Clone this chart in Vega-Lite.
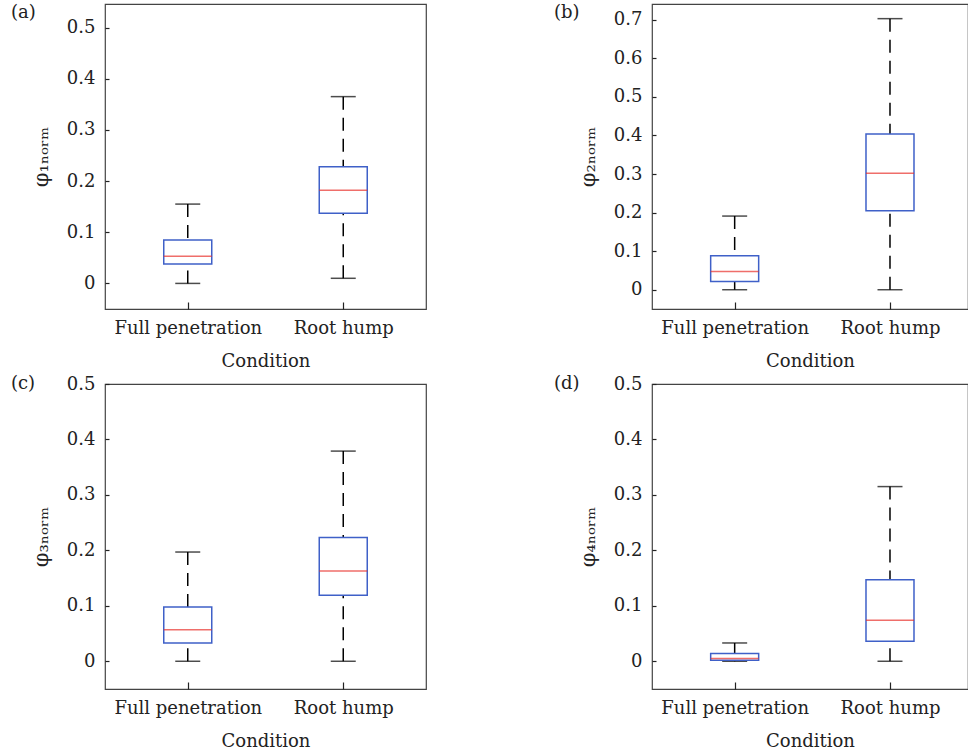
{
  "$schema": "https://vega.github.io/schema/vega-lite/v6.json",
  "background": "white",
  "padding": {"left": 10, "top": 3, "right": 0, "bottom": 0},
  "autosize": {"type": "pad"},
  "datasets": {
    "a": [
      {"cond": "Full penetration", "pos": 1, "min": 0.0, "q1": 0.038, "med": 0.053, "q3": 0.085, "max": 0.155},
      {"cond": "Root hump", "pos": 2, "min": 0.01, "q1": 0.137, "med": 0.182, "q3": 0.228, "max": 0.365}
    ],
    "b": [
      {"cond": "Full penetration", "pos": 1, "min": 0.0, "q1": 0.021, "med": 0.047, "q3": 0.088, "max": 0.191},
      {"cond": "Root hump", "pos": 2, "min": 0.0, "q1": 0.205, "med": 0.302, "q3": 0.404, "max": 0.703}
    ],
    "c": [
      {"cond": "Full penetration", "pos": 1, "min": 0.0, "q1": 0.033, "med": 0.057, "q3": 0.098, "max": 0.197},
      {"cond": "Root hump", "pos": 2, "min": 0.0, "q1": 0.119, "med": 0.163, "q3": 0.223, "max": 0.379}
    ],
    "d": [
      {"cond": "Full penetration", "pos": 1, "min": 0.0, "q1": 0.002, "med": 0.005, "q3": 0.014, "max": 0.033},
      {"cond": "Root hump", "pos": 2, "min": 0.0, "q1": 0.036, "med": 0.074, "q3": 0.147, "max": 0.315}
    ]
  },
  "columns": 2,
  "bounds": "flush",
  "align": "all",
  "spacing": {"row": 75, "column": 226},
  "concat": [
    {
      "width": 321, "height": 305,
      "data": {"name": "a"},
      "title": {"text": "(a)", "anchor": "start", "frame": "group", "dx": -94, "offset": -18, "baseline": "top"},
      "encoding": {
        "x": {"field": "pos", "type": "quantitative", "scale": {"domain": [0.5, 2.5], "nice": false, "zero": false},
              "axis": {"values": [1, 2], "labelExpr": "datum.value == 1 ? 'Full penetration' : 'Root hump'", "title": "Condition", "tickSize": -7, "labelPadding": 17, "titlePadding": 15}},
        "y": {"field": "min", "type": "quantitative", "scale": {"domain": [-0.05, 0.546], "nice": false, "zero": false},
              "axis": {"values": [0, 0.1, 0.2, 0.3, 0.4, 0.5], "format": ".1~f", "title": "φ₁ₙₒᵣₘ", "tickSize": -4, "labelPadding": 14, "titlePadding": 15}}
      },
      "layer": [
        {"mark": {"type": "rule", "color": "black", "strokeWidth": 1.5, "strokeDash": [13, 8]}, "encoding": {"y": {"field": "max", "type": "quantitative"}, "y2": {"field": "q3"}}},
        {"mark": {"type": "rule", "color": "black", "strokeWidth": 1.5, "strokeDash": [13, 8]}, "encoding": {"y": {"field": "min", "type": "quantitative"}, "y2": {"field": "q1"}}},
        {"mark": {"type": "tick", "orient": "horizontal", "color": "black", "size": 25, "thickness": 1.5}, "encoding": {"y": {"field": "min", "type": "quantitative"}}},
        {"mark": {"type": "tick", "orient": "horizontal", "color": "black", "size": 25, "thickness": 1.5}, "encoding": {"y": {"field": "max", "type": "quantitative"}}},
        {"mark": {"type": "bar", "size": 48, "fill": "white", "stroke": "#3f60c8", "strokeWidth": 1.5}, "encoding": {"y": {"field": "q1", "type": "quantitative"}, "y2": {"field": "q3"}}},
        {"mark": {"type": "tick", "orient": "horizontal", "color": "#e8312b", "size": 48, "thickness": 1.5}, "encoding": {"y": {"field": "med", "type": "quantitative"}}}
      ]
    },
    {
      "width": 316, "height": 305,
      "data": {"name": "b"},
      "title": {"text": "(b)", "anchor": "start", "frame": "group", "dx": -98, "offset": -18, "baseline": "top"},
      "encoding": {
        "x": {"field": "pos", "type": "quantitative", "scale": {"domain": [0.5, 2.47], "nice": false, "zero": false},
              "axis": {"values": [1, 2], "labelExpr": "datum.value == 1 ? 'Full penetration' : 'Root hump'", "title": "Condition", "tickSize": -7, "labelPadding": 17, "titlePadding": 15}},
        "y": {"field": "min", "type": "quantitative", "scale": {"domain": [-0.05, 0.741], "nice": false, "zero": false},
              "axis": {"values": [0, 0.1, 0.2, 0.3, 0.4, 0.5, 0.6, 0.7], "format": ".1~f", "title": "φ₂ₙₒᵣₘ", "tickSize": -4, "labelPadding": 14, "titlePadding": 15}}
      },
      "layer": [
        {"mark": {"type": "rule", "color": "black", "strokeWidth": 1.5, "strokeDash": [13, 8]}, "encoding": {"y": {"field": "max", "type": "quantitative"}, "y2": {"field": "q3"}}},
        {"mark": {"type": "rule", "color": "black", "strokeWidth": 1.5, "strokeDash": [13, 8]}, "encoding": {"y": {"field": "min", "type": "quantitative"}, "y2": {"field": "q1"}}},
        {"mark": {"type": "tick", "orient": "horizontal", "color": "black", "size": 25, "thickness": 1.5}, "encoding": {"y": {"field": "min", "type": "quantitative"}}},
        {"mark": {"type": "tick", "orient": "horizontal", "color": "black", "size": 25, "thickness": 1.5}, "encoding": {"y": {"field": "max", "type": "quantitative"}}},
        {"mark": {"type": "bar", "size": 48, "fill": "white", "stroke": "#3f60c8", "strokeWidth": 1.5}, "encoding": {"y": {"field": "q1", "type": "quantitative"}, "y2": {"field": "q3"}}},
        {"mark": {"type": "tick", "orient": "horizontal", "color": "#e8312b", "size": 48, "thickness": 1.5}, "encoding": {"y": {"field": "med", "type": "quantitative"}}}
      ]
    },
    {
      "width": 321, "height": 305,
      "data": {"name": "c"},
      "title": {"text": "(c)", "anchor": "start", "frame": "group", "dx": -94, "offset": -18, "baseline": "top"},
      "encoding": {
        "x": {"field": "pos", "type": "quantitative", "scale": {"domain": [0.5, 2.5], "nice": false, "zero": false},
              "axis": {"values": [1, 2], "labelExpr": "datum.value == 1 ? 'Full penetration' : 'Root hump'", "title": "Condition", "tickSize": -7, "labelPadding": 17, "titlePadding": 15}},
        "y": {"field": "min", "type": "quantitative", "scale": {"domain": [-0.05, 0.5], "nice": false, "zero": false},
              "axis": {"values": [0, 0.1, 0.2, 0.3, 0.4, 0.5], "format": ".1~f", "title": "φ₃ₙₒᵣₘ", "tickSize": -4, "labelPadding": 14, "titlePadding": 15}}
      },
      "layer": [
        {"mark": {"type": "rule", "color": "black", "strokeWidth": 1.5, "strokeDash": [13, 8]}, "encoding": {"y": {"field": "max", "type": "quantitative"}, "y2": {"field": "q3"}}},
        {"mark": {"type": "rule", "color": "black", "strokeWidth": 1.5, "strokeDash": [13, 8]}, "encoding": {"y": {"field": "min", "type": "quantitative"}, "y2": {"field": "q1"}}},
        {"mark": {"type": "tick", "orient": "horizontal", "color": "black", "size": 25, "thickness": 1.5}, "encoding": {"y": {"field": "min", "type": "quantitative"}}},
        {"mark": {"type": "tick", "orient": "horizontal", "color": "black", "size": 25, "thickness": 1.5}, "encoding": {"y": {"field": "max", "type": "quantitative"}}},
        {"mark": {"type": "bar", "size": 48, "fill": "white", "stroke": "#3f60c8", "strokeWidth": 1.5}, "encoding": {"y": {"field": "q1", "type": "quantitative"}, "y2": {"field": "q3"}}},
        {"mark": {"type": "tick", "orient": "horizontal", "color": "#e8312b", "size": 48, "thickness": 1.5}, "encoding": {"y": {"field": "med", "type": "quantitative"}}}
      ]
    },
    {
      "width": 316, "height": 305,
      "data": {"name": "d"},
      "title": {"text": "(d)", "anchor": "start", "frame": "group", "dx": -98, "offset": -18, "baseline": "top"},
      "encoding": {
        "x": {"field": "pos", "type": "quantitative", "scale": {"domain": [0.5, 2.47], "nice": false, "zero": false},
              "axis": {"values": [1, 2], "labelExpr": "datum.value == 1 ? 'Full penetration' : 'Root hump'", "title": "Condition", "tickSize": -7, "labelPadding": 17, "titlePadding": 15}},
        "y": {"field": "min", "type": "quantitative", "scale": {"domain": [-0.05, 0.5], "nice": false, "zero": false},
              "axis": {"values": [0, 0.1, 0.2, 0.3, 0.4, 0.5], "format": ".1~f", "title": "φ₄ₙₒᵣₘ", "tickSize": -4, "labelPadding": 14, "titlePadding": 15}}
      },
      "layer": [
        {"mark": {"type": "rule", "color": "black", "strokeWidth": 1.5, "strokeDash": [13, 8]}, "encoding": {"y": {"field": "max", "type": "quantitative"}, "y2": {"field": "q3"}}},
        {"mark": {"type": "rule", "color": "black", "strokeWidth": 1.5, "strokeDash": [13, 8]}, "encoding": {"y": {"field": "min", "type": "quantitative"}, "y2": {"field": "q1"}}},
        {"mark": {"type": "tick", "orient": "horizontal", "color": "black", "size": 25, "thickness": 1.5}, "encoding": {"y": {"field": "min", "type": "quantitative"}}},
        {"mark": {"type": "tick", "orient": "horizontal", "color": "black", "size": 25, "thickness": 1.5}, "encoding": {"y": {"field": "max", "type": "quantitative"}}},
        {"mark": {"type": "bar", "size": 48, "fill": "white", "stroke": "#3f60c8", "strokeWidth": 1.5}, "encoding": {"y": {"field": "q1", "type": "quantitative"}, "y2": {"field": "q3"}}},
        {"mark": {"type": "tick", "orient": "horizontal", "color": "#e8312b", "size": 48, "thickness": 1.5}, "encoding": {"y": {"field": "med", "type": "quantitative"}}}
      ]
    }
  ],
  "config": {
    "font": "DejaVu Serif",
    "view": {"stroke": "#444", "strokeWidth": 1.2},
    "axis": {
      "grid": false, "domain": false,
      "labelFont": "DejaVu Serif", "labelFontSize": 18, "labelColor": "#222",
      "titleFont": "DejaVu Serif", "titleFontSize": 18, "titleFontWeight": "normal", "titleColor": "#222",
      "tickColor": "#222", "tickWidth": 1.2
    },
    "axisY": {"titleFontSize": 21},
    "title": {"font": "DejaVu Serif", "fontSize": 18, "fontWeight": "normal", "color": "#222"}
  }
}
